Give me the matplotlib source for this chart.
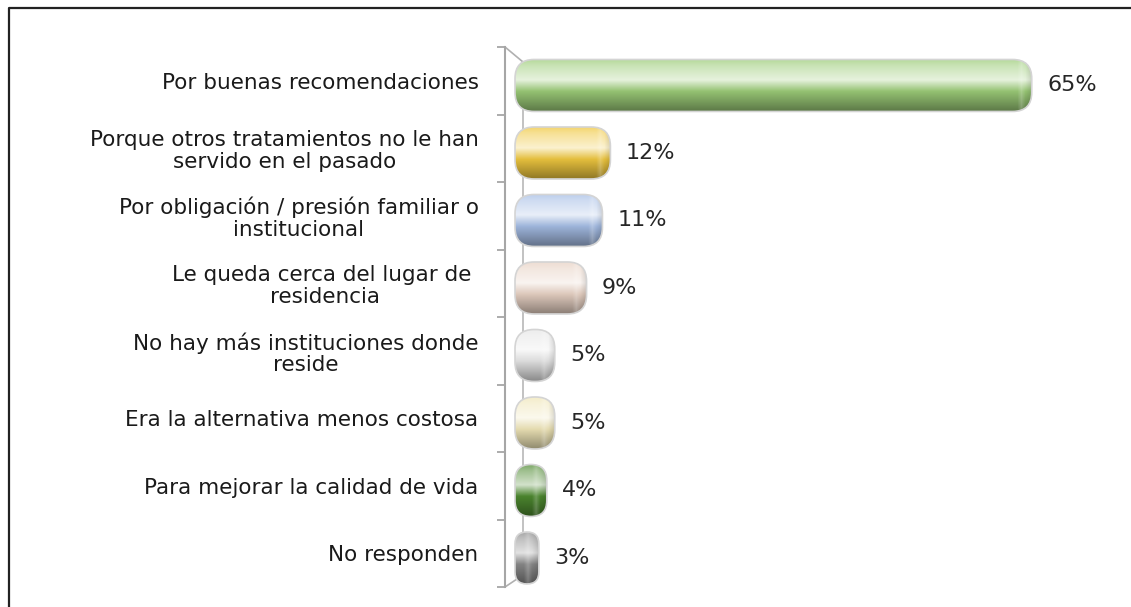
import numpy as np
import matplotlib
matplotlib.use('Agg')
import matplotlib.pyplot as plt
from matplotlib.patches import FancyBboxPatch
from matplotlib.lines import Line2D
from matplotlib.colors import to_rgb

labels = [
    'Por buenas recomendaciones',
    'Porque otros tratamientos no le han\nservido en el pasado',
    'Por obligación / presión familiar o\ninstitucional',
    'Le queda cerca del lugar de \nresidencia',
    'No hay más instituciones donde\nreside',
    'Era la alternativa menos costosa',
    'Para mejorar la calidad de vida',
    'No responden',
]
values = [65, 12, 11, 9, 5, 5, 4, 3]
bar_colors = ['#9ccc78', '#f0c840', '#a6bee6', '#e8d2c4',
              '#e6e6e6', '#f0e6b8', '#4e8a30', '#8a8a8a']

plt.rcParams['font.family'] = ['DejaVu Sans']

W, H = 1131, 607
fig = plt.figure(figsize=(W / 100, H / 100), dpi=100)
fig.patch.set_facecolor('white')

# axis area in pixels
ax_l, ax_r, ax_t, ax_b = 505, 1125, 47, 587
ax = fig.add_axes([ax_l / W, 1 - ax_b / H, (ax_r - ax_l) / W, (ax_b - ax_t) / H])

px_per_pct = 7.95
x0_px = 515
xlim = (-(x0_px - ax_l) / px_per_pct, (ax_r - x0_px) / px_per_pct)
ylim = (len(values) - 0.5, -0.5)


def mix(c, other, t):
    c = np.array(to_rgb(c))
    return c * (1 - t) + np.array(other) * t


def gradient(base, width_px, n=100):
    stops = [0.0, 0.12, 0.4, 0.62, 1.0]
    cols = [mix(base, (1, 1, 1), 0.25), mix(base, (1, 1, 1), 0.45),
            mix(base, (1, 1, 1), 0.75), mix(base, (0, 0, 0), 0.05),
            mix(base, (0, 0, 0), 0.4)]
    t = np.linspace(0, 1, n)
    prof = np.stack([np.interp(t, stops, [c[k] for c in cols]) for k in range(3)], axis=1)
    m = max(int(width_px), 4)
    img = np.repeat(prof[:, None, :], m, axis=1)
    # lighter ridge near the right end cap (fixed pixel size)
    d = (m - 1) - np.arange(m)
    ridge = np.clip(1 - np.abs(d - 10) / 4.0, 0, 1)[None, :, None] * 0.2
    img = img + (1 - img) * ridge
    edge = np.clip(1 - d / 6.0, 0, 1)[None, :, None] * 0.12
    img = img * (1 - edge)
    return np.clip(img, 0, 1)


bar_h = 0.77
shift = 0.07
rad = 2.4
aspect = 0.118
for i, (v, c) in enumerate(zip(values, bar_colors)):
    y = i + shift
    patch = FancyBboxPatch((0, y - bar_h / 2), v, bar_h,
                           boxstyle='round,pad=0,rounding_size=%g' % min(rad, v / 2),
                           mutation_aspect=aspect,
                           facecolor='none', edgecolor='#d4d4d4', linewidth=1.2, zorder=4)
    ax.add_patch(patch)
    im = ax.imshow(gradient(c, v * px_per_pct), extent=(0, v, y + bar_h / 2, y - bar_h / 2),
                   aspect='auto', interpolation='bilinear', zorder=3)
    im.set_clip_path(patch)
    ax.annotate('%d%%' % v, (v, y), xytext=(11, 0), textcoords='offset points',
                va='center', ha='left', fontsize=16, color='#262626')

ax.set_xlim(*xlim)
ax.set_ylim(*ylim)

# axes styling
for s in ['top', 'right', 'bottom']:
    ax.spines[s].set_visible(False)
ax.spines['left'].set_color('#a6a6a6')
ax.spines['left'].set_linewidth(1.5)
ax.set_xticks([])
ax.set_yticks(range(len(labels)))
ax.set_yticklabels(labels, fontsize=15.5, color='#1a1a1a')
for t in ax.get_yticklabels():
    t.set_multialignment('center')
    t.set_linespacing(1.12)
ax.tick_params(axis='y', which='major', length=0, pad=19)
ax.set_yticks(np.arange(-0.5, len(labels)), minor=True)
ax.tick_params(axis='y', which='minor', length=6, width=1.3, color='#a6a6a6', direction='out')

# 3D wall / floor hints
wx = (523 - ax_l) / (ax_r - ax_l)
wt = (ax_b - 62) / (ax_b - ax_t)
wb = (ax_b - 575) / (ax_b - ax_t)
ax.plot([wx, wx], [wb, wt], transform=ax.transAxes, color='#b8b8b8', lw=1.2, zorder=1, clip_on=False)
ax.plot([0, wx], [1, wt], transform=ax.transAxes, color='#b0b0b0', lw=1.2, zorder=1, clip_on=False)
ax.plot([0, wx], [0, wb], transform=ax.transAxes, color='#b0b0b0', lw=1.2, zorder=1, clip_on=False)

# frame around the figure (top and left only visible)
fig.add_artist(Line2D([9 / W, 9 / W, 1.0], [0.0, 1 - 8 / H, 1 - 8 / H],
                      transform=fig.transFigure, color='#222222', lw=1.6))

fig.savefig('out.png', dpi=100)
